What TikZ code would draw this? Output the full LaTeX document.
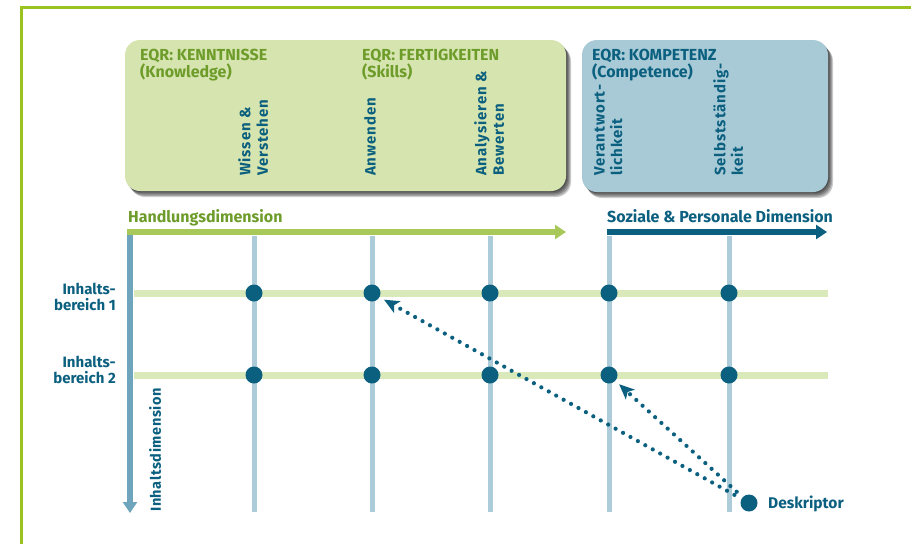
\documentclass[tikz,border=0pt]{standalone}
\usepackage{fontspec}
\setmainfont{Fira Sans}
\newfontfamily\condfont{Fira Sans}
\newfontfamily\widefont[LetterSpace=6]{Fira Sans}
\newfontfamily\midfont[LetterSpace=4]{Fira Sans}
\usetikzlibrary{arrows.meta}
\definecolor{framegreen}{HTML}{9BC31F}
\definecolor{boxgreen}{HTML}{D6E5AF}
\definecolor{boxblue}{HTML}{A8CAD6}
\definecolor{hdrgreen}{HTML}{6E9C2A}
\definecolor{teal}{HTML}{0B5F7F}
\definecolor{arrowgreen}{HTML}{A8C95A}
\definecolor{vline}{HTML}{ABCCD8}
\definecolor{hline}{HTML}{DAE9B9}
\definecolor{axis}{HTML}{6FA5BC}
\tikzset{
  hdr/.style={font=\condfont\bfseries\fontsize{16}{17}\selectfont, align=left, anchor=north west, inner sep=0pt},
  rot/.style={font=\widefont\bfseries\fontsize{15}{17.5}\selectfont, text=teal, align=left, rotate=90, anchor=north west, inner sep=0pt},
  side/.style={font=\condfont\bfseries\fontsize{15}{15.5}\selectfont, text=teal, align=right, anchor=east, inner sep=0pt},
  vgrid/.style={draw=vline, line width=5pt},
  hgrid/.style={draw=hline, line width=7pt},
  dot/.style={circle, fill=teal, minimum size=17pt, inner sep=0pt},
  dotarrow/.style={draw=teal, line width=4.2pt, line cap=round, dash pattern=on 0pt off 8.5pt,
    -{Stealth[length=15pt,width=13pt,inset=3.5pt]}, shorten <=8pt, shorten >=5pt},
  bigarrow/.style={line width=6pt, -{Triangle[length=11pt,width=14pt]}},
  shadowlayer/.style={fill=black, opacity=0.2, rounded corners=15pt},
  box/.style={rounded corners=15pt},
}
\begin{document}
\begin{tikzpicture}[x=1pt,y=-1pt]
\useasboundingbox (0,0) rectangle (911,544);
% frame
\draw[framegreen, line width=3pt] (21,544) -- (21,7) -- (911,7);
% shadows
\foreach \d in {1,2,3,4,5} {
  \fill[shadowlayer] (125+\d*1.0,40+\d*1.2) rectangle (566+\d*1.0,191+\d*1.2);
  \fill[shadowlayer] (582+\d*1.0,40+\d*1.2) rectangle (828+\d*1.0,192+\d*1.2);
}
% boxes
\fill[boxgreen, box] (125,40) rectangle (566,191);
\fill[boxblue, box] (582,40) rectangle (828,192);
% headers
\node[hdr, text=hdrgreen] (h1) at (140,49) {EQR: KENNTNISSE\\(Knowledge)};
\node[hdr, text=hdrgreen] (h2) at (362,49) {EQR: FERTIGKEITEN\\(Skills)};
\node[hdr, text=teal] (h3) at (592,49) {EQR: KOMPETENZ\\(Competence)};
% rotated labels
\node[rot] (c1) at (238,176) {Wissen \&\\Verstehen};
\node[rot] (c2) at (364,176) {Anwenden};
\node[rot] (c3) at (474,176) {Analysieren \&\\Bewerten};
\node[rot] (c4) at (594,176) {Verantwort-\\lichkeit};
\node[rot] (c5) at (713,176) {Selbstständig-\\keit};
% grid
\foreach \x in {254,372,490,609,729} {
  \draw[vgrid] (\x,236) -- (\x,512);
}
\coordinate (h1l) at (134,293); \coordinate (h1r) at (828,293);
\coordinate (h2l) at (134,375); \coordinate (h2r) at (828,375);
\draw[hgrid] (h1l) -- (h1r);
\draw[hgrid] (h2l) -- (h2r);
% axes
\coordinate (axtop) at (130,229); \coordinate (axbot) at (130,513);
\draw[axis, bigarrow] (axtop) -- (axbot);
\coordinate (ga) at (127,232); \coordinate (gb) at (566,232);
\draw[arrowgreen, bigarrow] (ga) -- (gb);
\coordinate (ta) at (607,232); \coordinate (tb) at (827,232);
\draw[teal, bigarrow] (ta) -- (tb);
\node[font=\condfont\bfseries\fontsize{16}{18}\selectfont, text=hdrgreen, anchor=base west, inner sep=0pt] (hd) at (128,222) {Handlungsdimension};
\node[font=\condfont\bfseries\fontsize{16}{18}\selectfont, text=teal, anchor=base west, inner sep=0pt] (sp) at (607,222) {Soziale \& Personale Dimension};
\node[rot, font=\midfont\bfseries\fontsize{14.5}{16}\selectfont] (id) at (149,512) {Inhaltsdimension};
% side labels
\node[side] (r1) at (116,297) {Inhalts-\\bereich 1};
\node[side] (r2) at (116,370) {Inhalts-\\bereich 2};
% dots
\foreach \x [count=\i] in {254,372,490,609,729} {
  \node[dot] (a\i) at (\x,293) {};
  \node[dot] (b\i) at (\x,375) {};
}
\node[dot] (desc) at (749,503) {};
\node[font=\condfont\bfseries\fontsize{15.5}{17}\selectfont, text=teal, anchor=base west, inner sep=0pt] (dl) at (768,508) {Deskriptor};
% dotted arrows
\draw[dotarrow] (desc) -- (a2);
\draw[dotarrow] (desc) -- (b4);
\end{tikzpicture}
\end{document}
